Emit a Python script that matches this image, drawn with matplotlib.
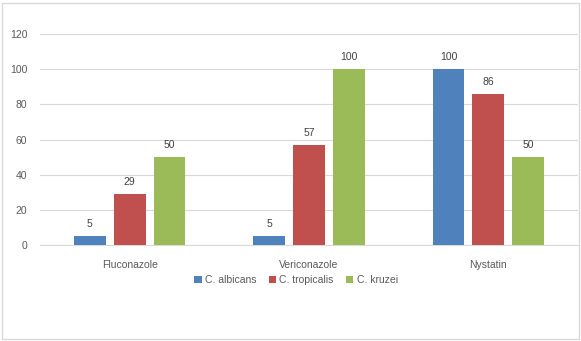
import matplotlib
matplotlib.use("Agg")
import matplotlib.pyplot as plt
import numpy as np
from matplotlib.patches import Rectangle

categories = ["Fluconazole", "Vericonazole", "Nystatin"]
series_names = ["C. albicans", "C. tropicalis", "C. kruzei"]
albicans = [5, 5, 100]
tropicalis = [29, 57, 86]
kruzei = [50, 100, 50]
yticks = [0, 20, 40, 60, 80, 100, 120]

colors = ["#4F81BD", "#C0504D", "#9BBB59"]
text_color = "#595959"
plt.rcParams['font.family'] = ['Liberation Sans', 'DejaVu Sans']

fig = plt.figure(figsize=(5.81, 3.41), dpi=100)
fig.patches.append(Rectangle((2/581, 2/341), 577/581, 336/341, transform=fig.transFigure,
                             fill=False, edgecolor="#D9D9D9", linewidth=1))
ax = fig.add_axes([40/581, 1-245/341, 538/581, 211/341])

x = np.arange(len(categories))
width = 0.178
step = 0.222
for i, (vals, name) in enumerate(zip([albicans, tropicalis, kruzei], series_names)):
    pos = x + (i - 1) * step
    ax.bar(pos, vals, width, color=colors[i], label=name, zorder=3)
    for p, v in zip(pos, vals):
        ax.annotate(str(v), (p, v), xytext=(0, 5), textcoords="offset points",
                    ha="center", va="bottom", fontsize=7.5, color="#404040")

ax.set_xlim(-0.5, 2.5)
ax.set_ylim(0, 120)
ax.set_yticks(yticks)
ax.set_xticks(x)
ax.set_xticklabels(categories)
ax.yaxis.grid(True, color="#D9D9D9", linewidth=0.8, zorder=0)
for s in ["top", "right", "left"]:
    ax.spines[s].set_visible(False)
ax.spines["bottom"].set_color("#D9D9D9")
ax.tick_params(axis="both", length=0, labelsize=7.5, colors=text_color)
ax.tick_params(axis="x", pad=11)
ax.tick_params(axis="y", pad=9)

leg = fig.legend(loc="center", bbox_to_anchor=(296/581, 1-280/341), ncol=3, frameon=False,
                 fontsize=7.5, handlelength=0.7, handleheight=0.7, handletextpad=0.3,
                 columnspacing=1.2)
for t in leg.get_texts():
    t.set_color(text_color)

fig.savefig("out.png", dpi=100)
